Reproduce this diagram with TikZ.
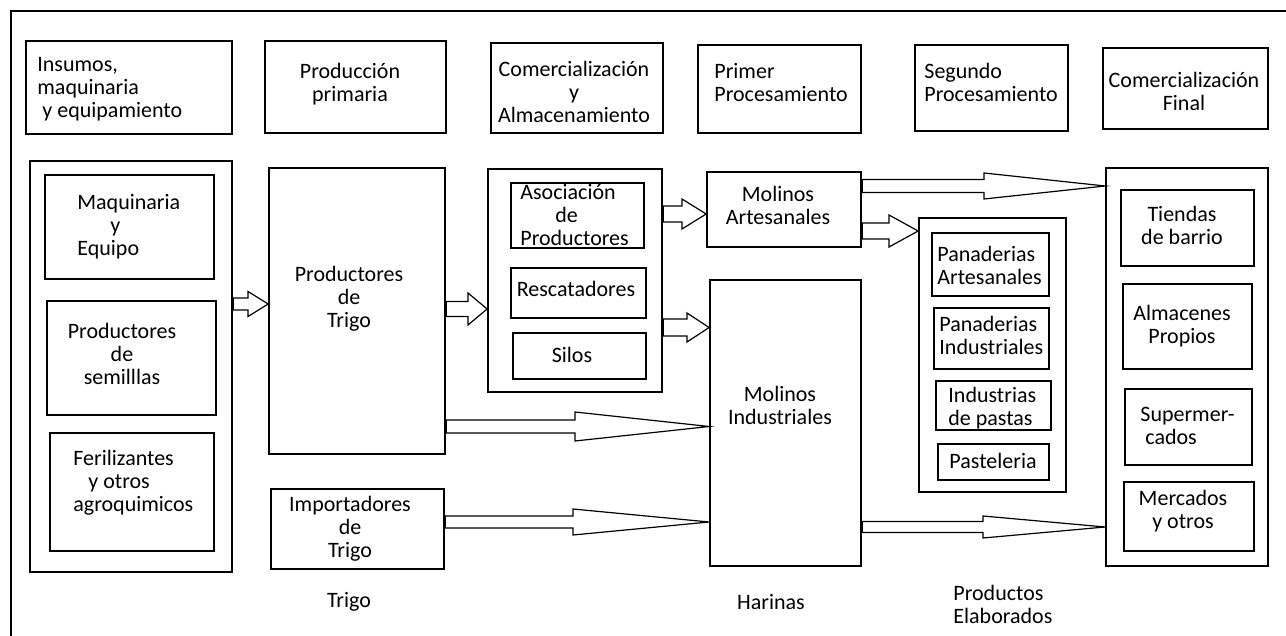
\documentclass[tikz,border=0pt]{standalone}
\usepackage{fontspec}
\setmainfont{Carlito}
\usetikzlibrary{fit}

\newcommand{\flecha}[6]{%
  \draw[flechalinea] (#1.east |- 0,#3-#4) -- (#6,#3-#4) -- (#6,#3-#5)
    -- (#2.west |- 0,#3) -- (#6,#3+#5) -- (#6,#3+#4)
    -- (#1.east |- 0,#3+#4) -- cycle;
  \draw[line width=1.6pt] (#1.east |- 0,#3-#4) -- (#1.east |- 0,#3+#4);}

\begin{document}
\begin{tikzpicture}[x=0.5pt, y=-0.5pt,
  every node/.style={font=\fontsize{11}{11.5}\selectfont, inner sep=0pt},
  caja/.style={draw, line width=0.85pt},
  izq/.style={anchor=west, align=left},
  cen/.style={align=center},
  flechalinea/.style={draw, line width=0.6pt, fill=white},
  marco/.style={line width=1.2pt},
]
  \useasboundingbox (0,0) rectangle (1286,636);
  \draw[marco] (11,640) -- (11,11) -- (1290,11);

  % encabezados
  \node[caja, fit={(26,41) (232,134)}] (insumos) {};
  \node[izq] (insumos-t) at (37,89) {Insumos,\\maquinaria\\\hspace*{2.5pt}y equipamiento};
  \node[caja, fit={(265,41) (446,133)}] (primaria) {};
  \node[cen] (primaria-t) at (350,84.5) {Producción\\primaria};
  \node[caja, fit={(491,43) (663,133)}] (comalm) {};
  \node[cen] (comalm-t) at (574,92) {Comercialización\\y\\Almacenamiento};
  \node[caja, fit={(698,45) (861,133)}] (primer) {};
  \node[izq] (primer-t) at (714,82.5) {Primer\\Procesamiento};
  \node[caja, fit={(915,45) (1068,131)}] (segundo) {};
  \node[izq] (segundo-t) at (924,82.5) {Segundo\\Procesamiento};
  \node[caja, fit={(1103,48) (1268,129)}] (final) {};
  \node[cen] (final-t) at (1184,91.5) {Comercialización\\Final};

  % insumos
  \node[caja, fit={(30,161) (232,572)}] (insumosbox) {};
  \node[caja, fit={(45,175) (214,279)}] (maquinaria) {};
  \node[izq] (maquinaria-t) at (77,226.5) {Maquinaria\\\hspace*{16.5pt}y\\Equipo};
  \node[caja, fit={(47,301) (216,415)}] (semillas) {};
  \node[cen] (semillas-t) at (122,353.5) {Productores\\de\\semilllas};
  \node[caja, fit={(50,433) (214,551)}] (fertil) {};
  \node[izq] (fertil-t) at (73,483) {Ferilizantes\\\hspace*{7.5pt}y otros\\agroquimicos};

  % produccion
  \node[caja, fit={(269,168) (445,454)}] (prodtrigo) {};
  \node[cen] (prodtrigo-t) at (349,298.5) {Productores\\de\\Trigo};
  \node[caja, fit={(271,489) (444,569)}] (importadores) {};
  \node[cen] (importadores-t) at (350,529) {Importadores\\de\\Trigo};

  % acopio
  \node[caja, fit={(488,169) (662,392)}] (acopio) {};
  \node[caja, fit={(511,183) (644,248)}] (asociacion) {};
  \node[izq] (asociacion-t) at (520,215.5) {Asociación\\\hspace*{17.5pt}de\\Productores};
  \node[caja, fit={(511,268) (646,318)}] (rescatadores) {};
  \node (rescatadores-t) at (576,289) {Rescatadores};
  \node[caja, fit={(513,333) (646,379)}] (silos) {};
  \node (silos-t) at (572,355) {Silos};

  % molinos
  \node[caja, fit={(707,172) (861,247)}] (molart) {};
  \node[cen] (molart-t) at (778,205.5) {Molinos\\Artesanales};
  \node[caja, fit={(710,280) (861,566)}] (molind) {};
  \node[cen] (molind-t) at (780,405) {Molinos\\Industriales};

  % segundo procesamiento
  \node[caja, fit={(919,218) (1066,492)}] (elaborados) {};
  \node[caja, fit={(932,233) (1049,296)}] (panart) {};
  \node[izq] (panart-t) at (937,265) {Panaderias\\Artesanales};
  \node[caja, fit={(934,308) (1049,369)}] (panind) {};
  \node[izq] (panind-t) at (939,335) {Panaderias\\Industriales};
  \node[caja, fit={(936,381) (1051,430)}] (pastas) {};
  \node[izq] (pastas-t) at (948,408) {Industrias\\de pastas};
  \node[caja, fit={(938,444) (1049,480)}] (pasteleria) {};
  \node (pasteleria-t) at (993,461) {Pasteleria};

  % comercializacion final
  \node[caja, fit={(1106,168) (1268,566)}] (minoristas) {};
  \node[caja, fit={(1121,190) (1254,266)}] (tiendas) {};
  \node[cen] (tiendas-t) at (1182,225.5) {Tiendas\\de barrio};
  \node[caja, fit={(1123,284) (1252,369)}] (almacenes) {};
  \node[cen] (almacenes-t) at (1182,326) {Almacenes\\Propios};
  \node[caja, fit={(1125,389) (1252,465)}] (supermercados) {};
  \node[izq] (supermercados-t) at (1140,425.5) {Supermer-\\\hspace*{2.5pt}cados};
  \node[caja, fit={(1124,482) (1254,551)}] (mercados) {};
  \node[cen] (mercados-t) at (1183,511.5) {Mercados\\y otros};

  % etiquetas
  \node (trigo-l) at (349,602) {Trigo};
  \node (harinas-l) at (771,602) {Harinas};
  \node[izq] (elaborados-l) at (953,604.5) {Productos\\Elaborados};

  % flechas
  \flecha{insumosbox}{prodtrigo}{304}{6}{12.5}{248}
  \flecha{prodtrigo}{acopio}{309}{7.5}{16}{468}
  \flecha{acopio}{molart}{214}{8}{15}{682}
  \flecha{acopio}{molind}{327.5}{8.5}{14.5}{687}
  \flecha{molart}{elaborados}{231}{8}{16}{889}
  \flecha{prodtrigo}{molind}{426.5}{6.5}{14.5}{575}
  \flecha{importadores}{molind}{522}{6}{13}{573}
  \flecha{molart}{minoristas}{186}{6.5}{13}{984}
  \flecha{molind}{minoristas}{527}{5.5}{11}{983}
\end{tikzpicture}
\end{document}
